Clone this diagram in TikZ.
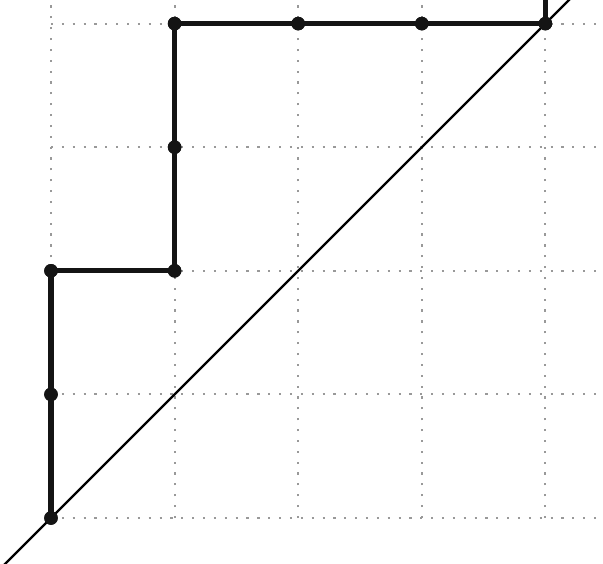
\documentclass[tikz,border=0pt]{standalone}
\begin{document}
\begin{tikzpicture}[x=1cm,y=1cm,
  gridline/.style={gray!80,dotted,line width=0.5pt},
  pathline/.style={line width=1.2pt,black!92},
  diag/.style={line width=0.5pt,black},
  lat/.style={circle,fill=black!92,inner sep=0pt,minimum size=0.11cm}]
\useasboundingbox (-0.4126,-0.3641) rectangle (4.4660,4.1909);
\clip (-0.4126,-0.3641) rectangle (4.4660,4.1909);
% grid
\foreach \i in {0,...,4} {
  \draw[gridline] (\i,0) -- (\i,4.3);
  \draw[gridline] (0,\i) -- (4.6,\i);
}
% diagonal
\coordinate (d0) at (-0.5,-0.5);
\coordinate (d1) at (4.4,4.4);
\draw[diag] (d0) -- (d1);
% lattice path
\coordinate (top) at (4,4.4);
\node[lat] (p0) at (0,0) {};
\node[lat] (p1) at (0,1) {};
\node[lat] (p2) at (0,2) {};
\node[lat] (p3) at (1,2) {};
\node[lat] (p4) at (1,3) {};
\node[lat] (p5) at (1,4) {};
\node[lat] (p6) at (2,4) {};
\node[lat] (p7) at (3,4) {};
\node[lat] (p8) at (4,4) {};
\draw[pathline] (p0.center) -- (p1.center) -- (p2.center) -- (p3.center) -- (p4.center) -- (p5.center) -- (p6.center) -- (p7.center) -- (p8.center) -- (top);
\foreach \p in {p0,p1,p2,p3,p4,p5,p6,p7,p8} \fill[black!92] (\p) circle (0.055);
\end{tikzpicture}
\end{document}
